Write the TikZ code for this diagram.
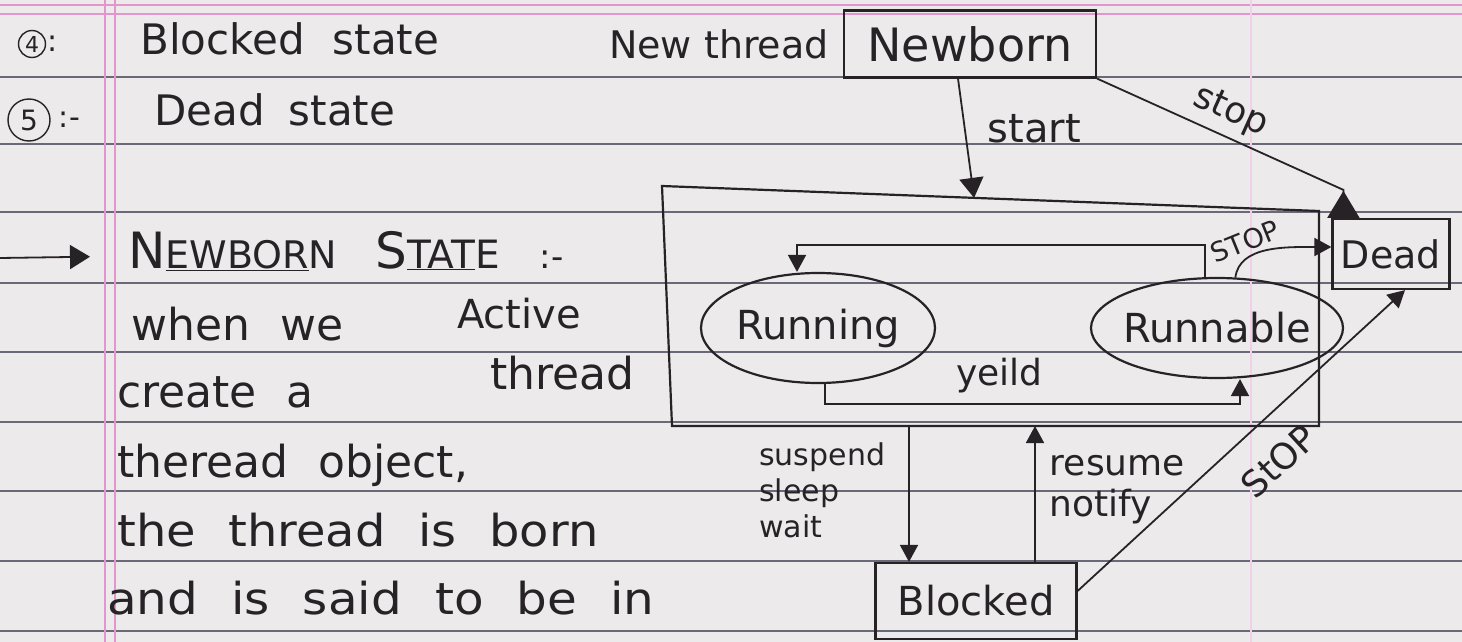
\documentclass[tikz,border=0pt]{standalone}
\usepackage{fontspec}
\setmainfont{DejaVu Sans}
\usepackage{tikz}
\usetikzlibrary{shapes.geometric, arrows.meta, positioning, calc}

\definecolor{paper}{RGB}{237,234,235}
\definecolor{ruling}{RGB}{105,105,120}
\definecolor{margin}{RGB}{226,150,205}
\definecolor{ink}{RGB}{38,34,38}

% wider gaps between handwritten words
\newcommand{\wordgap}[1]{\spaceskip #1\relax}

\tikzstyle{statebox} = [rectangle, draw=ink, line width=2.2pt, text=ink, inner sep=0pt, font=\fontsize{42}{46}\selectfont]
\tikzstyle{stateoval} = [ellipse, draw=ink, line width=2.2pt, text=ink, inner sep=0pt, font=\fontsize{40}{44}\selectfont]
\tikzstyle{hand} = [text=ink, inner sep=0pt, anchor=base west, font=\fontsize{44}{48}\selectfont\wordgap{30pt}]
\tikzstyle{lbl} = [text=ink, inner sep=0pt, font=\fontsize{36}{41}\selectfont]
\tikzstyle{arrow} = [draw=ink, line width=1.8pt, -{Triangle[length=17pt,width=18pt]}]
\tikzstyle{connect} = [draw=ink, line width=2.2pt]

\begin{document}
\begin{tikzpicture}[x=1pt, y=-1pt]

% ruled page
\fill[paper] (0,0) rectangle (1462,642);
\useasboundingbox (0,0) rectangle (1462,642);
\foreach \y in {77,144,212,283,352,422,491,561,631}
  \draw[ruling, line width=1.7pt] (0,\y) -- (1462,\y);
\foreach \y in {5,14}
  \draw[margin, line width=1.4pt] (0,\y) -- (1462,\y);
\foreach \x in {105,115}
  \draw[margin, line width=1.2pt] (\x,0) -- (\x,642);
\draw[margin!45, line width=1.2pt] (1251,0) -- (1251,642);

% notes on the left
\node(num4)[circle, draw=ink, line width=1.4pt, inner sep=0pt, minimum size=27pt, text=ink, font=\fontsize{22}{22}\selectfont] at (32,44) {4};
\node(col4)[hand, right=1pt of num4, font=\fontsize{30}{30}\selectfont] {:};
\node(blk)[hand, font=\fontsize{42}{46}\selectfont\wordgap{28pt}] at (140,55) {Blocked state};
\node(num5)[circle, draw=ink, line width=1.4pt, inner sep=0pt, minimum size=42pt, text=ink, font=\fontsize{28}{28}\selectfont] at (29,120) {5};
\node(col5)[hand, right=8pt of num5, font=\fontsize{30}{30}\selectfont] {:-};
\node(dst)[hand, font=\fontsize{42}{46}\selectfont\wordgap{24pt}] at (154,125) {Dead state};

\coordinate (lead) at (0,258);
\node(newhd)[hand, font=\fontsize{50}{54}\selectfont] at (128,268) {N{\fontsize{38}{42}\selectfont\underline{EWBOR}N}\hspace{38pt}S{\fontsize{39}{42}\selectfont\underline{TAT}E}\hspace{40pt}{\fontsize{34}{34}\selectfont:-}};
\draw[arrow, -{Triangle[length=20pt,width=24pt]}] (lead) -- ([xshift=-38pt,yshift=-6pt]newhd.west);

\node(l1)[hand] at (131,340) {when we};
\node(l2)[hand] at (117,407) {create a};
\node(l3)[hand] at (117,477) {theread object,};
\node(l4)[hand, xscale=1.09] at (117,546) {the thread is born};
\node(l5)[hand, xscale=1.1] at (107,614) {and is said to be in};
\node(act1)[hand, font=\fontsize{40}{44}\selectfont] at (457,328) {Active};
\node(act2)[hand] at (490,389) {thread};

% states
\node(newborn)[statebox, minimum width=252pt, minimum height=67pt, font=\fontsize{46}{50}\selectfont] at (970,44) {Newborn};
\node(newthr)[lbl, left=14pt of newborn, font=\fontsize{38}{42}\selectfont] {New thread};
\node(running)[stateoval, minimum width=234pt, minimum height=110pt] at (818,328) {Running};
\node(runnable)[stateoval, minimum width=252pt, minimum height=100pt, inner xsep=-6pt] at (1217,328) {Runnable};
\node(dead)[statebox, minimum width=117pt, minimum height=70pt, font=\fontsize{38}{42}\selectfont] at (1391,254) {Dead};
\node(blocked)[statebox, minimum width=201pt, minimum height=76pt, font=\fontsize{40}{44}\selectfont] at (976,601) {Blocked};

% active thread box
\coordinate (act-nw) at (662,186);
\coordinate (act-ne) at (1319,211);
\coordinate (act-se) at (1319,426);
\coordinate (act-sw) at (672,426);
\draw[connect] (act-nw) -- (act-ne) -- (act-se) -- (act-sw) -- cycle;

\coordinate (susp) at ($(blocked.north)+(-67,0)$);
\coordinate (resm) at ($(blocked.north)+(59,0)$);

% transitions
\draw[arrow, -{Triangle[length=20pt,width=24pt]}] ([xshift=-12pt]newborn.south) -- node[lbl, pos=0.42, anchor=west, xshift=22pt, font=\fontsize{40}{44}\selectfont]{start} ($(act-nw)!0.475!(act-ne)$);
\draw[draw=ink, line width=1.8pt, -{Triangle[reversed,length=27pt,width=32pt]}] (newborn.south east) -- node[lbl, sloped, above=7pt]{stop} ($(dead.north west)+(12,-28)$) -- ($(dead.north west)+(12,0)$);
\draw[arrow] ([xshift=-12pt]runnable.north) -- ++(0,-32) -| ([xshift=-21pt]running.north);
\draw[arrow] ([xshift=7pt]running.south) -- ++(0,20) -| node[lbl, pos=0.21, above=10pt]{yeild} ([xshift=23pt]runnable.south);
\draw[arrow] (runnable.70) .. controls +(4,-32) and +(-45,0) .. node[lbl, pos=0.3, rotate=22, above=5pt, font=\fontsize{27}{30}\selectfont]{STOP} ([yshift=7pt]dead.west);
\draw[arrow] ([yshift=10pt]blocked.east) -- node[lbl, pos=0.53, sloped, below=26pt]{StOP} ([xshift=14pt]dead.south);
\draw[arrow] (susp |- act-sw) -- node[lbl, pos=0.47, left=23pt, align=left, font=\fontsize{30}{36}\selectfont]{suspend\\sleep\\wait} (susp);
\draw[arrow] (resm) -- node[lbl, pos=0.53, right=14pt, align=left]{resume\\notify} (resm |- act-sw);

\end{tikzpicture}
\end{document}
